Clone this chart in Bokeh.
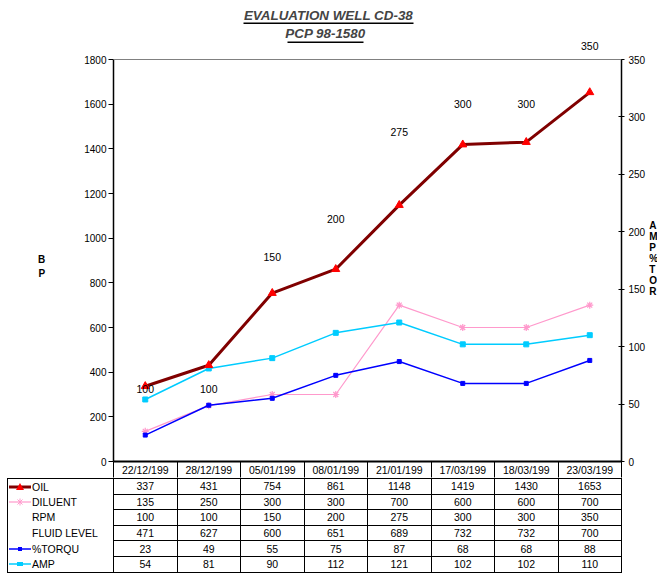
from bokeh.plotting import figure
from bokeh.models import (Range1d, LinearAxis, FixedTicker, ColumnDataSource,
                          LabelSet, Label, BoxAnnotation, Span, Div)
from bokeh.layouts import column
from bokeh.embed import file_html
from bokeh.resources import INLINE
from bokeh.core.properties import value

# ---------------- data ----------------
dates = ["22/12/199", "28/12/199", "05/01/199", "08/01/199",
         "21/01/199", "17/03/199", "18/03/199", "23/03/199"]
oil = [337, 431, 754, 861, 1148, 1419, 1430, 1653]
diluent = [135, 250, 300, 300, 700, 600, 600, 700]
rpm = [100, 100, 150, 200, 275, 300, 300, 350]
fluid_level = [471, 627, 600, 651, 689, 732, 732, 700]
torque = [23, 49, 55, 75, 87, 68, 68, 88]
amp = [54, 81, 90, 112, 121, 102, 102, 110]
series_names = ["OIL", "DILUENT", "RPM", "FLUID LEVEL", "%TORQU", "AMP"]
left_max, right_max = 1800, 350
left_ticks = [0, 200, 400, 600, 800, 1000, 1200, 1400, 1600, 1800]
right_ticks = [0, 50, 100, 150, 200, 250, 300, 350]

# ---------------- style / layout ----------------
FONT = "Liberation Sans"
C_OIL_LINE, C_OIL_MARK = "#800000", "#FF0000"
C_DIL = "#FF99CC"
C_TOR = "#0000FF"
C_AMP = "#00CCFF"
# manual pixel nudges of the RPM data labels (as placed in the original)
rpm_label_nudge = [-42, -42, 32, 13, 14, 13, 13, 14]

n = len(dates)
xs = [i + 0.5 for i in range(n)]

LB, FW, RB = 113, 508, 30      # left border, frame width, right border
FH = 461                      # frame height (title area included)
PLOT_H = 402                  # pixel height of the value axes
HDR = 16                      # header (date) row height
TBL_X = 7                     # left edge of the data table

p = figure(frame_width=FW, frame_height=FH,
           min_border_left=LB, min_border_right=RB, min_border_top=0,
           min_border_bottom=HDR, x_axis_location=None, y_axis_location=None,
           x_range=Range1d(0, n), y_range=Range1d(0, left_max * FH / PLOT_H),
           output_backend="svg", toolbar_location=None, tools="")
p.extra_y_ranges = {"right": Range1d(0, right_max * FH / PLOT_H)}
p.xgrid.visible = False
p.ygrid.visible = False
p.outline_line_color = None
p.background_fill_color = "white"
p.border_fill_color = "white"

yl = LinearAxis(ticker=FixedTicker(ticks=left_ticks), bounds=(0, left_max))
yr = LinearAxis(ticker=FixedTicker(ticks=right_ticks), y_range_name="right",
                bounds=(0, right_max))
for ax in (yl, yr):
    ax.axis_line_color = "black"
    ax.axis_line_width = 1.5
    ax.major_tick_line_color = "black"
    ax.minor_tick_line_color = None
    ax.major_label_text_font = FONT
    ax.major_label_text_font_size = "10px"
    ax.major_label_text_color = "black"
    ax.axis_label_text_font = FONT
    ax.axis_label_text_font_size = "10px"
    ax.axis_label_text_font_style = "bold"
    ax.axis_label_text_color = "black"
    ax.axis_label_orientation = "horizontal"
yl.major_tick_out = 5
yl.major_tick_in = 0
yl.major_label_standoff = 2
yl.axis_label = "\n\n\n\n\nB\nP"
yl.axis_label_text_line_height = 1.3
yl.axis_label_standoff = 36
yr.major_tick_out = 3
yr.major_tick_in = 3
yr.major_label_standoff = 4
yr.axis_label = "\n\n\n\n\nA\nM\nP\n%\nT\nO\nR"
yr.axis_label_text_line_height = 1.0
yr.axis_label_standoff = 1
p.add_layout(yl, "left")
p.add_layout(yr, "right")

# date header row = x axis (minor ticks draw the cell borders)
xa = LinearAxis(ticker=FixedTicker(ticks=xs, minor_ticks=list(range(n + 1))),
                major_label_overrides={x: d for x, d in zip(xs, dates)})
xa.axis_line_color = "black"
xa.axis_line_width = 2
xa.major_tick_line_color = None
xa.major_tick_out = 0
xa.major_tick_in = 0
xa.minor_tick_line_color = "black"
xa.minor_tick_out = HDR
xa.minor_tick_in = 0
xa.major_label_standoff = 2 - HDR
xa.major_label_text_font = FONT
xa.major_label_text_font_size = "10.5px"
xa.major_label_text_color = "black"
p.add_layout(xa, "below")

# top border of the plot area
p.add_layout(Span(location=left_max, dimension="width", line_color="#808080", line_width=1))

src = ColumnDataSource(dict(x=xs, oil=oil, dil=diluent, rpm=rpm, tor=torque,
                            amp=amp, rpm_txt=[str(v) for v in rpm],
                            nudge=rpm_label_nudge))

p.line("x", "dil", source=src, line_color=C_DIL, line_width=1.2)
p.scatter("x", "dil", source=src, marker="asterisk", size=7, line_color=C_DIL, line_width=1.2)
p.line("x", "amp", source=src, line_color=C_AMP, line_width=1.5, y_range_name="right")
p.scatter("x", "amp", source=src, marker="square", size=5, fill_color=C_AMP,
          line_color=C_AMP, y_range_name="right")
p.line("x", "tor", source=src, line_color=C_TOR, line_width=1.5, y_range_name="right")
p.scatter("x", "tor", source=src, marker="square", size=4, fill_color=C_TOR,
          line_color=C_TOR, y_range_name="right")
p.line("x", "oil", source=src, line_color=C_OIL_LINE, line_width=3)
p.scatter("x", "oil", source=src, marker="triangle", size=8, fill_color=C_OIL_MARK,
          line_color=C_OIL_MARK)

p.add_layout(LabelSet(x="x", y="rpm", text="rpm_txt", source=src, y_range_name="right",
                      y_offset="nudge", text_align="center", text_baseline="middle",
                      text_font=value(FONT), text_font_size="10.5px", text_color="black"))

# titles (canvas coordinates, inside the frame)
p.add_layout(Label(x=LB + 215, y=15, x_units="canvas", y_units="canvas",
                   text="EVALUATION WELL CD-38", text_align="center", text_baseline="middle",
                   text_font=FONT, text_font_size="13.4px", text_font_style="bold italic"))
p.add_layout(Label(x=LB + 212, y=33, x_units="canvas", y_units="canvas",
                   text="PCP 98-1580", text_align="center", text_baseline="middle",
                   text_font=FONT, text_font_size="13.4px", text_font_style="bold italic"))
p.add_layout(BoxAnnotation(left=LB + 130, right=LB + 300, top=22, bottom=23.5,
                           left_units="canvas", right_units="canvas",
                           top_units="canvas", bottom_units="canvas",
                           fill_color="black", fill_alpha=1, line_color=None))
p.add_layout(BoxAnnotation(left=LB + 174, right=LB + 250, top=41, bottom=42.5,
                           left_units="canvas", right_units="canvas",
                           top_units="canvas", bottom_units="canvas",
                           fill_color="black", fill_alpha=1, line_color=None))

# ---------------- data table (HTML) ----------------
colw = FW / n


def key_svg(kind):
    w, h, cy = 24, 14, 7
    body = ""
    if kind == "OIL":
        body = (f'<line x1="1" y1="{cy}" x2="23" y2="{cy}" stroke="{C_OIL_LINE}" stroke-width="3"/>'
                f'<polygon points="12,{cy-4} 16,{cy+3} 8,{cy+3}" fill="{C_OIL_MARK}"/>')
    elif kind == "DILUENT":
        body = (f'<line x1="1" y1="{cy}" x2="23" y2="{cy}" stroke="{C_DIL}" stroke-width="1.2"/>'
                f'<g stroke="{C_DIL}" stroke-width="1">'
                f'<line x1="12" y1="{cy-3.5}" x2="12" y2="{cy+3.5}"/>'
                f'<line x1="9.5" y1="{cy-2.5}" x2="14.5" y2="{cy+2.5}"/>'
                f'<line x1="14.5" y1="{cy-2.5}" x2="9.5" y2="{cy+2.5}"/></g>')
    elif kind == "%TORQU":
        body = (f'<line x1="1" y1="{cy}" x2="23" y2="{cy}" stroke="{C_TOR}" stroke-width="1.5"/>'
                f'<rect x="10" y="{cy-2}" width="4" height="4" fill="{C_TOR}"/>')
    elif kind == "AMP":
        body = (f'<line x1="1" y1="{cy}" x2="23" y2="{cy}" stroke="{C_AMP}" stroke-width="1.5"/>'
                f'<rect x="9" y="{cy-2}" width="6" height="4" fill="{C_AMP}"/>')
    return (f'<svg width="{w}" height="{h}" style="vertical-align:top;display:inline-block">'
            f'{body}</svg>')


rows = [oil, diluent, rpm, fluid_level, torque, amp]
td = "border:1px solid #000;padding:0;height:15.6px;line-height:14px;white-space:nowrap;overflow:hidden;"
html = [f'<table style="border-collapse:collapse;table-layout:fixed;width:{LB - TBL_X + FW}px;'
        f'font-family:\'{FONT}\',Arial,sans-serif;font-size:10.5px;color:#000;'
        f'margin:0 0 0 {TBL_X}px;">',
        '<colgroup>', f'<col style="width:{LB - TBL_X}px">']
html += [f'<col style="width:{colw}px">' for _ in range(n)]
html.append('</colgroup>')
for r, (name, vals) in enumerate(zip(series_names, rows)):
    top = "1px solid #000" if r == 0 else "none"
    bot = "1px solid #000" if r == len(rows) - 1 else "none"
    html.append('<tr>')
    html.append(f'<td style="{td}text-align:left;border-top:{top};border-bottom:{bot};">'
                f'{key_svg(name)}{name}</td>')
    for v in vals:
        html.append(f'<td style="{td}text-align:center;">{v}</td>')
    html.append('</tr>')
html.append('</table>')

tbl = Div(text="".join(html), width=LB + FW + 2, height=96,
          styles={"margin": "0px", "padding": "0px"})

layout = column(p, tbl, spacing=0)
open("out.html", "w").write(file_html(layout, INLINE))
